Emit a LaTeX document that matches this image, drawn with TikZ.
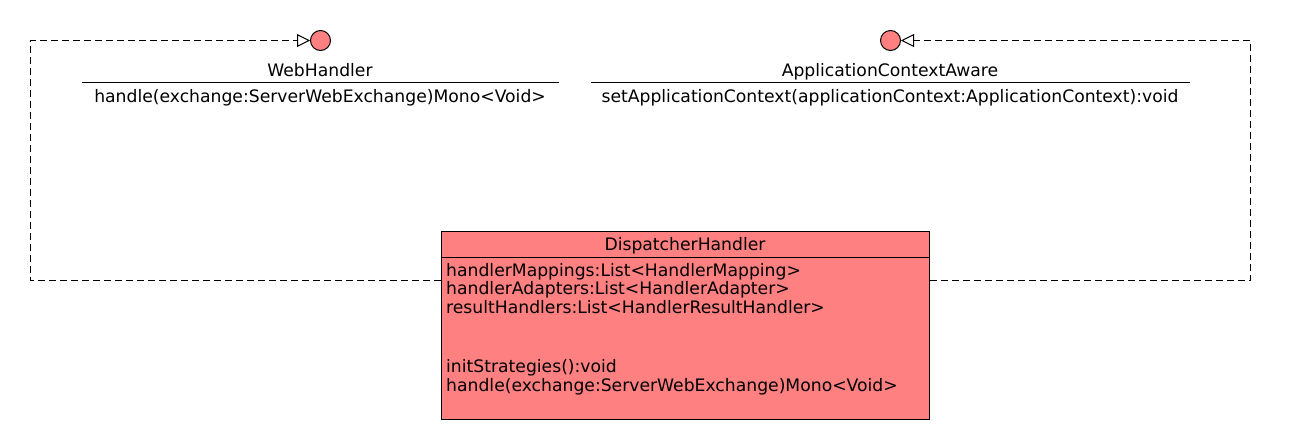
\documentclass[tikz,border=0pt]{standalone}
\usepackage{fontspec}
\setmainfont{DejaVu Sans}
\usetikzlibrary{arrows.meta}
\tikzset{>=latex}
\definecolor{umlred}{HTML}{FF8080}
\tikzstyle{realize} = [line width=1, dash pattern=on 7pt off 4pt, -{Triangle[open, length=13pt, width=13pt, fill=white]}]
\tikzstyle{iface} = [circle, draw, line width=1, fill=umlred, minimum size=20pt, inner sep=0]
\tikzstyle{classbox} = [draw, line width=1, fill=umlred, minimum width=488pt, minimum height=188pt, inner sep=0]
\tikzstyle{umltext} = [inner sep=0, font=\fontsize{17.2}{19}\selectfont]
\newcommand{\member}[3]{
\node[umltext, anchor=base west] (#1) at (#2) {#3};
}

\begin{document}
\begin{tikzpicture}[x=1pt, y=-1pt]
		\useasboundingbox (0,0) rectangle (1290,440);
		
		% Coordinates
		\coordinate (WL) at (30.5,280.5);
		\coordinate (WT) at (30.5,40.5);
		\coordinate (AR) at (1250.5,280.5);
		\coordinate (AT) at (1250.5,40.5);
		
		% Interfaces
		\node[iface] (webc) at (320.5,40.5) {};
		\node[iface] (appc) at (890.5,40.5) {};
		\node[umltext, anchor=base] (webt) at (320,76) {WebHandler};
		\draw[line width=1] (82,82.5) -- (559,82.5);
		\node[umltext, anchor=base] (webm) at (320,102) {handle(exchange:ServerWebExchange)Mono<Void>};
		\node[umltext, anchor=base] (appt) at (890,76) {ApplicationContextAware};
		\draw[line width=1] (591,82.5) -- (1190,82.5);
		\node[umltext, anchor=base] (appm) at (890,102) {setApplicationContext(applicationContext:ApplicationContext):void};
		
		% Class
		\node[classbox] (disp) at (685.5,325.5) {};
		\node[umltext, anchor=base] (dispt) at (685,250) {DispatcherHandler};
		\draw[line width=1] (441.5,257.5) -- (929.5,257.5);
		\member{f1}{446,276}{handlerMappings:List<HandlerMapping>}
		\member{f2}{446,294.5}{handlerAdapters:List<HandlerAdapter>}
		\member{f3}{446,313}{resultHandlers:List<HandlerResultHandler>}
		\member{m1}{446,372.5}{initStrategies():void}
		\member{m2}{446,391}{handle(exchange:ServerWebExchange)Mono<Void>}
		
		% Realizations
		\draw[realize] (disp.west |- WL) -- (WL) -- (WT) -- (webc.west);
		\draw[realize] (disp.east |- AR) -- (AR) -- (AT) -- (appc.east);
	\end{tikzpicture}
\end{document}
